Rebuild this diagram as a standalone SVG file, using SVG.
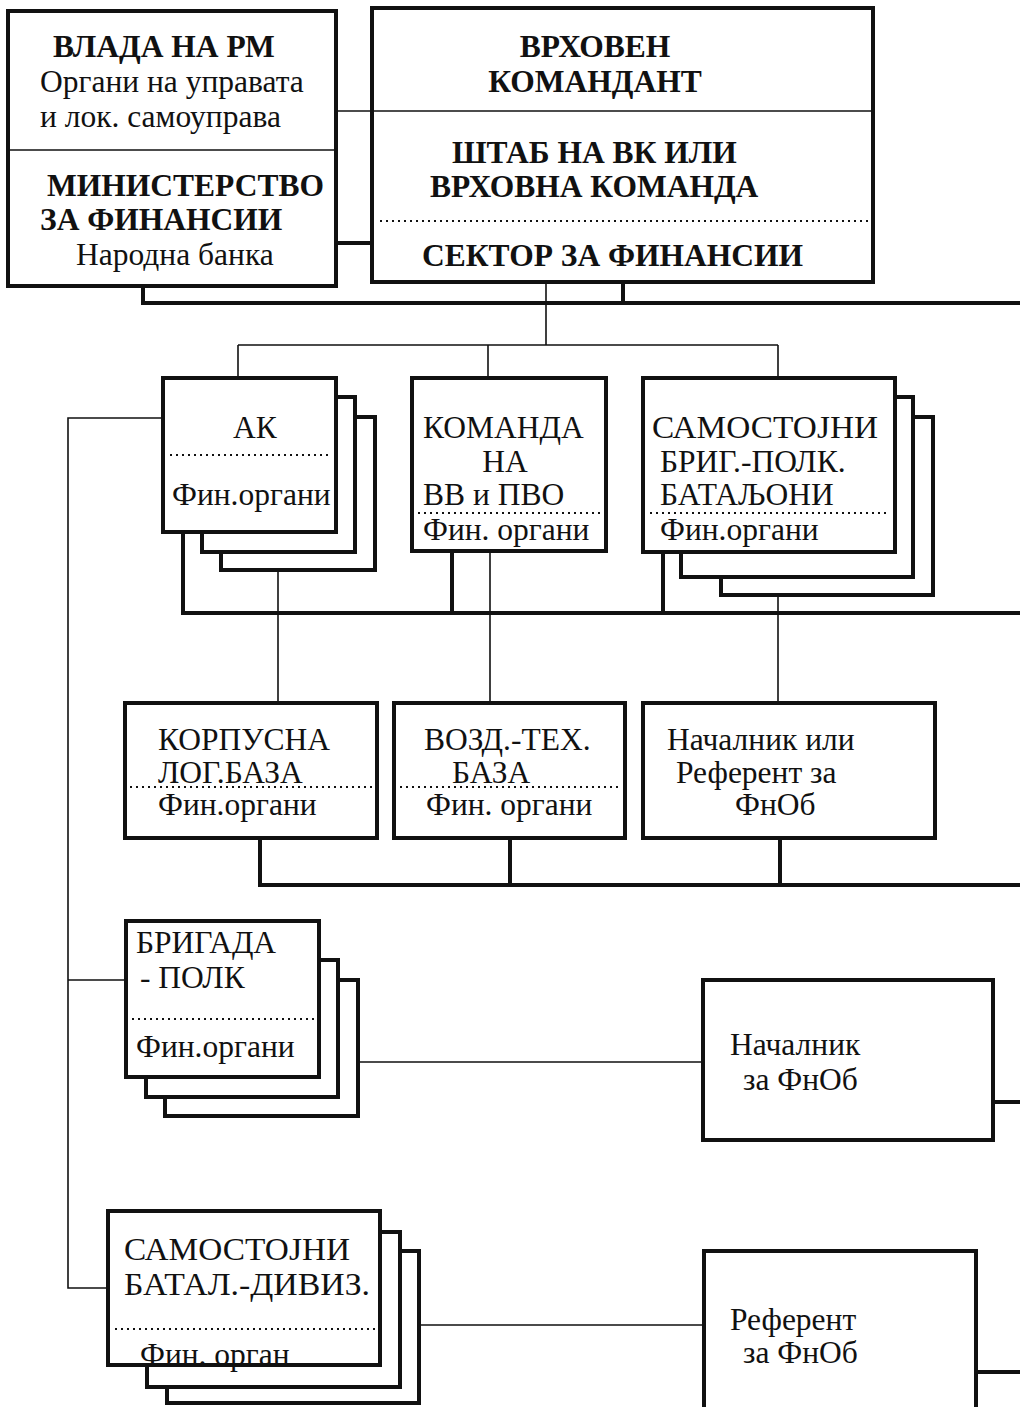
<svg xmlns="http://www.w3.org/2000/svg" width="1020" height="1407" viewBox="0 0 1020 1407">
<style>
.box{fill:#fff;stroke:#111;stroke-width:4}
.div{stroke:#111;stroke-width:1.6}
.dot{stroke:#111;stroke-width:2;stroke-dasharray:2 4}
.thin{fill:none;stroke:#111;stroke-width:1.6}
.thick{fill:none;stroke:#111;stroke-width:4}
text{font-family:"Liberation Serif","Times New Roman",serif;font-size:31.5px;fill:#111}
.b{font-weight:bold}
.c{text-anchor:middle}
</style>
<rect width="1020" height="1407" fill="#fff"/>
<g id="connectors">
<path class="thin" d="M336 111H372"/>
<path class="thick" d="M336 243H372"/>
<path class="thick" d="M143 286V303H1020M623 282V303"/>
<path class="thin" d="M546 282V345M238 345H778M238 345V378M488 345V378M778 345V378"/>
<path class="thick" d="M183 532V613H1020M452 551V613M663 552V613"/>
<path class="thin" d="M278 570V703M490 551V703M778 595V703"/>
<path class="thick" d="M260 838V885H1020M510 838V885M780 838V885"/>
<path class="thin" d="M163 418H68V1288H108M68 980H126"/>
<path class="thin" d="M358 1062H703M419 1325H704"/>
<path class="thick" d="M993 1102H1020M976 1372H1020"/>
</g>
<g id="vlada">
<rect class="box" x="8" y="11" width="328" height="275"/>
<line class="div" x1="8" y1="150" x2="336" y2="150"/>
<text class="b" x="53" y="57">ВЛАДА НА РМ</text>
<text x="40" y="92">Органи на управата</text>
<text x="40" y="127">и лок. самоуправа</text>
<text class="b" x="47" y="196">МИНИСТЕРСТВО</text>
<text class="b" x="40" y="230">ЗА ФИНАНСИИ</text>
<text x="76" y="265">Народна банка</text>
</g>
<g id="vrhoven">
<rect class="box" x="372" y="8" width="501" height="274"/>
<line class="div" x1="372" y1="111" x2="873" y2="111"/>
<line class="dot" x1="380" y1="221" x2="870" y2="221"/>
<text class="b c" x="595" y="57">ВРХОВЕН</text>
<text class="b c" x="595" y="92">КОМАНДАНТ</text>
<text class="b" x="452" y="163">ШТАБ НА ВК ИЛИ</text>
<text class="b" x="430" y="197">ВРХОВНА КОМАНДА</text>
<text class="b" x="422" y="266">СЕКТОР ЗА ФИНАНСИИ</text>
</g>
<g id="ak">
<rect class="box" x="221" y="417" width="154" height="153"/>
<rect class="box" x="202" y="397" width="153" height="155"/>
<rect class="box" x="163" y="378" width="173" height="154"/>
<line class="dot" x1="170" y1="455" x2="332" y2="455"/>
<text class="c" x="255" y="438">АК</text>
<text x="172" y="505">Фин.органи</text>
</g>
<g id="komanda">
<rect class="box" x="412" y="378" width="194" height="173"/>
<line class="dot" x1="418" y1="513" x2="602" y2="513"/>
<text x="423" y="438">КОМАНДА</text>
<text class="c" x="505" y="472">НА</text>
<text x="423" y="505">ВВ и ПВО</text>
<text x="423" y="540">Фин. органи</text>
</g>
<g id="samostojni1">
<rect class="box" x="721" y="417" width="212" height="178"/>
<rect class="box" x="681" y="397" width="232" height="180"/>
<rect class="box" x="643" y="378" width="252" height="174"/>
<line class="dot" x1="650" y1="513" x2="890" y2="513"/>
<text x="652" y="438" textLength="226" lengthAdjust="spacingAndGlyphs">САМОСТОЈНИ</text>
<text x="660" y="472">БРИГ.-ПОЛК.</text>
<text x="660" y="505">БАТАЉОНИ</text>
<text x="660" y="540">Фин.органи</text>
</g>
<g id="korpusna">
<rect class="box" x="125" y="703" width="252" height="135"/>
<line class="dot" x1="130" y1="787" x2="372" y2="787"/>
<text x="158" y="750">КОРПУСНА</text>
<text x="158" y="783">ЛОГ.БАЗА</text>
<text x="158" y="815">Фин.органи</text>
</g>
<g id="vozd">
<rect class="box" x="394" y="703" width="231" height="135"/>
<line class="dot" x1="400" y1="787" x2="620" y2="787"/>
<text x="424" y="750">ВОЗД.-ТЕХ.</text>
<text x="452" y="783">БАЗА</text>
<text x="426" y="815">Фин. органи</text>
</g>
<g id="nacalnik1">
<rect class="box" x="643" y="703" width="292" height="135"/>
<text x="667" y="750">Началник или</text>
<text x="676" y="783">Референт за</text>
<text x="735" y="815">ФнОб</text>
</g>
<g id="brigada">
<rect class="box" x="165" y="980" width="193" height="136"/>
<rect class="box" x="146" y="960" width="192" height="137"/>
<rect class="box" x="126" y="921" width="193" height="156"/>
<line class="dot" x1="132" y1="1019" x2="316" y2="1019"/>
<text x="136" y="953">БРИГАДА</text>
<text x="140" y="988">- ПОЛК</text>
<text x="136" y="1057">Фин.органи</text>
</g>
<g id="nacalnik2">
<rect class="box" x="703" y="980" width="290" height="160"/>
<text x="730" y="1055">Началник</text>
<text x="743" y="1090">за  ФнОб</text>
</g>
<g id="samostojni2">
<rect class="box" x="167" y="1251" width="252" height="152"/>
<rect class="box" x="147" y="1232" width="253" height="155"/>
<rect class="box" x="108" y="1211" width="272" height="154"/>
<line class="dot" x1="115" y1="1329" x2="376" y2="1329"/>
<text x="124" y="1260" textLength="226" lengthAdjust="spacingAndGlyphs">САМОСТОЈНИ</text>
<text x="124" y="1295" textLength="246" lengthAdjust="spacingAndGlyphs">БАТАЛ.-ДИВИЗ.</text>
<text x="140" y="1365">Фин. орган</text>
</g>
<g id="referent">
<rect class="box" x="704" y="1251" width="272" height="170"/>
<text x="730" y="1330">Референт</text>
<text x="743" y="1363">за ФнОб</text>
</g>
</svg>
